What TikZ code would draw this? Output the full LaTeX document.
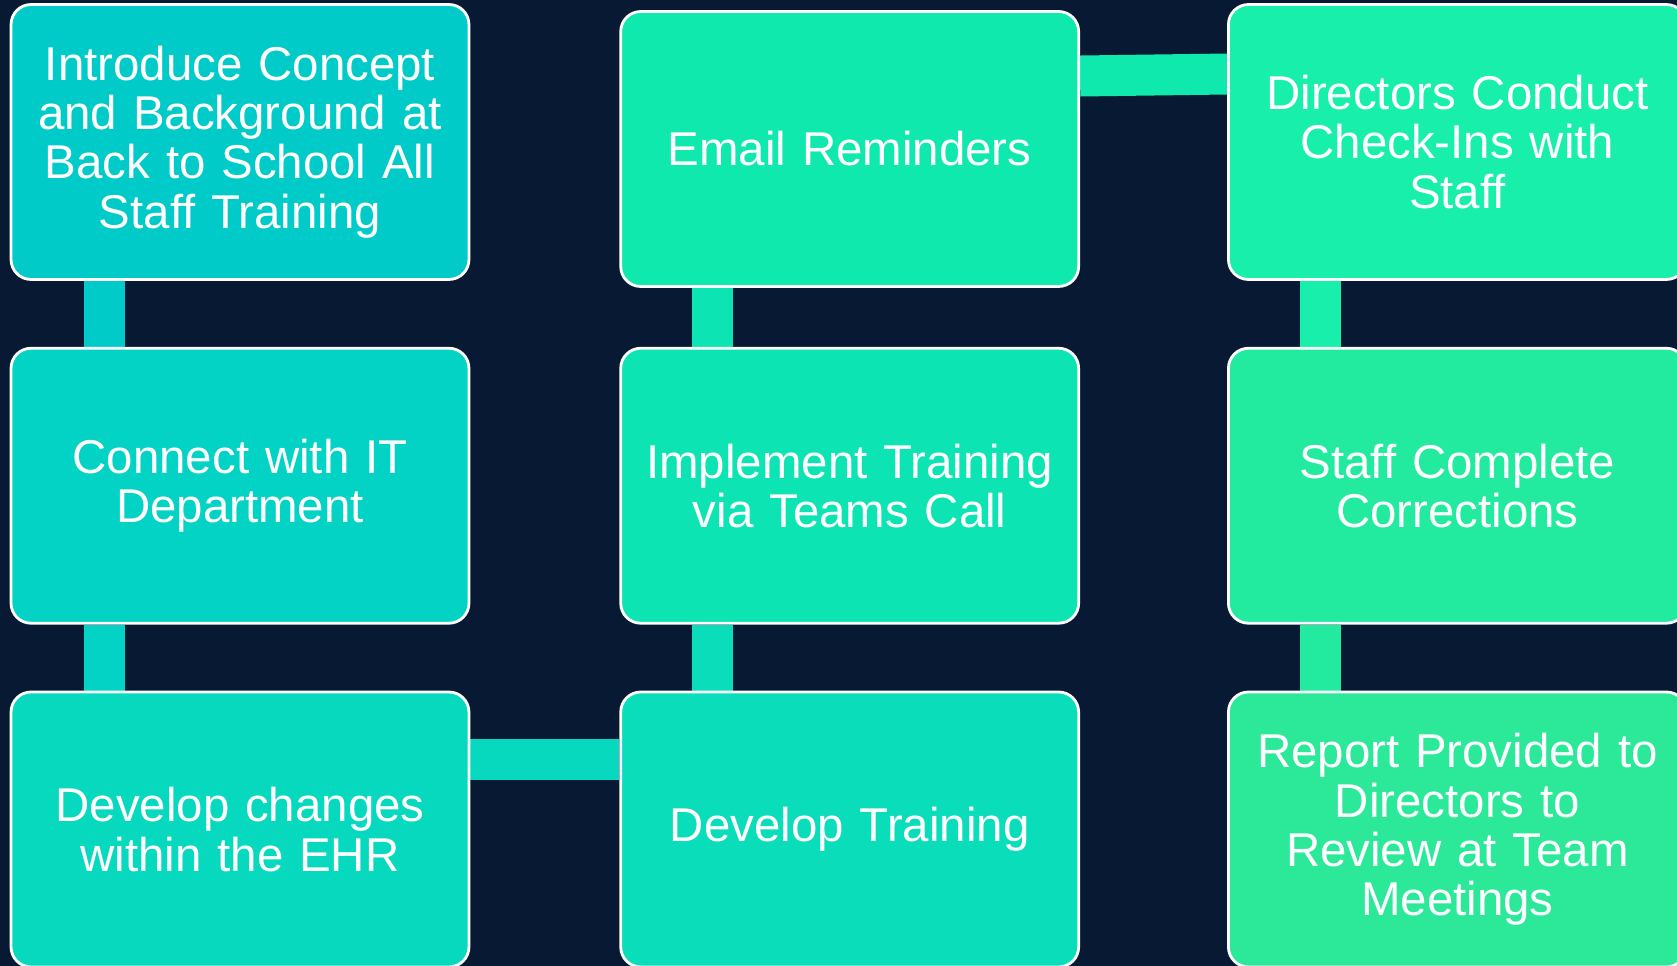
\documentclass[tikz,border=0pt]{standalone}
\usepackage{fontspec}
\setmainfont{Liberation Sans}
\usetikzlibrary{positioning, backgrounds}
\definecolor{bgnavy}{HTML}{071933}
\definecolor{stepA}{HTML}{00CBC8}
\definecolor{stepB}{HTML}{03D3C5}
\definecolor{stepC}{HTML}{07D9BF}
\definecolor{stepD}{HTML}{09DDBA}
\definecolor{stepE}{HTML}{0DE4B3}
\definecolor{stepF}{HTML}{10E9AE}
\definecolor{stepG}{HTML}{17EFAA}
\definecolor{stepH}{HTML}{22EBA0}
\definecolor{stepI}{HTML}{2CE99A}
\begin{document}
\begin{tikzpicture}[x=0.02cm, y=-0.02cm, node distance={1.32cm and 2.98cm},
    stepbox/.style = {draw=white, line width=1.6pt, rounded corners=0.4cm, minimum width=9.16cm, minimum height=5.5cm, text width=8.9cm, inner sep=0.1cm, align=center, text=white, font=\fontsize{27}{28}\selectfont},
    link/.style = {line width=0.82cm}]
  \useasboundingbox (0,0) rectangle (1677,966);
  \clip (0,0) rectangle (1677,966);
  \node[stepbox, fill=stepA] (A1) at (240,142) {Introduce Concept\\ and Background at\\ Back to School All\\ Staff Training};
  \node[stepbox, fill=stepB] (A2) [below=of A1] {Connect with IT\\ Department};
  \node[stepbox, fill=stepC] (A3) [below=of A2] {Develop changes\\ within the EHR};
  \node[stepbox, fill=stepD] (B3) [right=of A3] {Develop Training};
  \node[stepbox, fill=stepE] (B2) [right=of A2] {Implement Training\\ via Teams Call};
  \node[stepbox, fill=stepF] (B1) [right=of A1, yshift=-0.14cm] {Email Reminders};
  \node[stepbox, fill=stepH] (C2) [right=2.94cm of B2] {Staff Complete\\ Corrections};
  \node[stepbox, fill=stepI] (C3) [right=2.94cm of B3] {Report Provided to\\ Directors to\\ Review at Team\\ Meetings};
  \node[stepbox, fill=stepG] (C1) [above=of C2] {Directors Conduct\\ Check-Ins with\\ Staff};
  % connectors behind the boxes
  \begin{scope}[on background layer]
    \fill[bgnavy] (0,0) rectangle (1677,966);
    \draw[link, stepA] ([xshift=-2.72cm]A1.south) -- ([xshift=-2.72cm]A2.north);
    \draw[link, stepB] ([xshift=-2.72cm]A2.south) -- ([xshift=-2.72cm]A3.north);
    \draw[link, stepC] ([yshift=1.4cm]A3.east) -- ([yshift=1.4cm]B3.west);
    \draw[link, stepD] ([xshift=-2.74cm]B3.north) -- ([xshift=-2.74cm]B2.south);
    \draw[link, stepE] ([xshift=-2.74cm]B2.north) -- ([xshift=-2.74cm]B1.south);
    \draw[link, stepF] ([yshift=1.46cm]B1.east) -- ([yshift=1.36cm]C1.west);
    \draw[link, stepG] ([xshift=-2.74cm]C1.south) -- ([xshift=-2.74cm]C2.north);
    \draw[link, stepH] ([xshift=-2.74cm]C2.south) -- ([xshift=-2.74cm]C3.north);
  \end{scope}
\end{tikzpicture}
\end{document}
